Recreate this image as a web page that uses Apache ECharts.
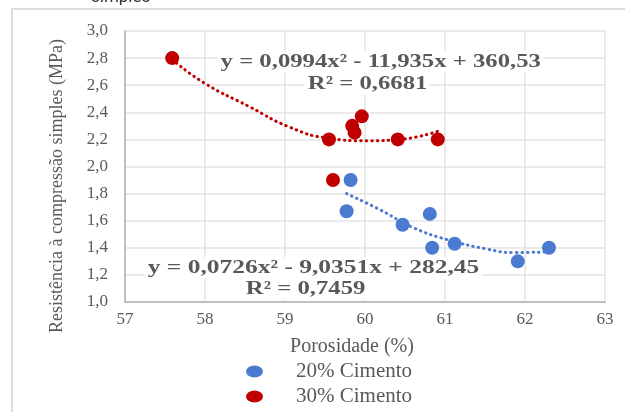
<!DOCTYPE html>
<html>
<head>
<meta charset="utf-8">
<script src="https://cdn.jsdelivr.net/npm/echarts@6/dist/echarts.min.js"></script>
<style>
  html, body { margin: 0; padding: 0; background: #fff; }
  #chart { width: 625px; height: 412px; }
</style>
</head>
<body>
<div id="chart"></div>
<script>
// points: [porosidade %, resistência MPa]
const cimento20 = [[59.82, 1.90], [59.77, 1.67], [60.47, 1.57], [60.81, 1.65],
                   [60.84, 1.40], [61.12, 1.43], [61.91, 1.30], [62.30, 1.40]];
const cimento30 = [[57.59, 2.80], [59.55, 2.20], [59.84, 2.30], [59.87, 2.25],
                   [59.96, 2.37], [60.41, 2.20], [60.91, 2.20], [59.60, 1.90]];
// trend lines
const trend20 = [[59.77, 1.80], [60.19, 1.68], [60.6, 1.55], [61.03, 1.46],
                 [61.53, 1.39], [61.85, 1.365], [62.3, 1.37]];
const trend30 = [[57.59, 2.79], [57.98, 2.62], [58.56, 2.44], [59.06, 2.29],
                 [59.53, 2.21], [60.03, 2.19], [60.44, 2.20], [60.91, 2.26]];
const eq20 = ['y = 0,0726x² - 9,0351x + 282,45', 'R² = 0,7459'];
const eq30 = ['y = 0,0994x² - 11,935x + 360,53', 'R² = 0,6681'];

const serif = '"Liberation Serif", "DejaVu Serif", serif';
const grey = '#595959';
const blue = '#4a7bd0';
const red = '#c00000';

// equation label with white box, stretched wide like the original
function eqLabel(text, x, y, align, sx) {
  return {
    type: 'text', x: x, y: y, z: 100, scaleX: sx || 1.3,
    style: {
      text: text, font: 'bold 19px ' + serif, fill: grey,
      align: align, verticalAlign: 'middle',
      backgroundColor: '#fff', padding: [1, 2]
    }
  };
}

const chart = echarts.init(document.getElementById('chart'));
chart.setOption({
  backgroundColor: '#fff',
  animation: false,
  textStyle: { fontFamily: serif, color: grey },
  grid: { left: 125, right: 20, top: 31, bottom: 110 },
  xAxis: {
    type: 'value', min: 57, max: 63, interval: 1,
    name: 'Porosidade (%)', nameLocation: 'middle', nameGap: 35,
    nameTextStyle: { fontFamily: serif, fontSize: 20, color: grey, padding: [0, 26, 0, 0] },
    axisLine: { lineStyle: { color: '#bfbfbf', width: 2 } },
    axisTick: { show: false },
    axisLabel: { fontFamily: serif, fontSize: 17, color: grey, margin: 9 },
    splitLine: { show: true, lineStyle: { color: '#e3e3e3', width: 1.5 } }
  },
  yAxis: {
    type: 'value', min: 1.0, max: 3.0, interval: 0.2,
    axisLine: { show: true, lineStyle: { color: '#bfbfbf', width: 2 } },
    axisTick: { show: false },
    axisLabel: {
      fontFamily: serif, fontSize: 17, color: grey, margin: 17,
      formatter: v => v.toFixed(1).replace('.', ',')
    },
    splitLine: { lineStyle: { color: '#e3e3e3', width: 1.5 } }
  },
  legend: {
    data: ['20% Cimento', '30% Cimento'],
    orient: 'vertical', left: 246, top: 361, padding: 0,
    itemWidth: 17, itemHeight: 12, itemGap: 4,
    icon: 'path://M0 5A5 5 0 1 1 10 5A5 5 0 1 1 0 5Z',
    symbolKeepAspect: false,
    textStyle: { fontFamily: serif, fontSize: 21, color: grey, padding: [0, 0, 0, 28] }
  },
  graphic: [
    { type: 'rect', shape: { x: 12, y: 9, width: 700, height: 500 },
      style: { fill: 'none', stroke: '#dcdcdc', lineWidth: 2 }, silent: true },
    { type: 'text', x: 91, y: -11,
      style: { text: 'simples', font: '17px Roboto, sans-serif', fill: '#333' } },
    { type: 'text', x: 57, y: 186, rotation: Math.PI / 2,
      style: { text: 'Resistência à compressão simples (MPa)', font: '18px ' + serif,
               fill: grey, align: 'center', verticalAlign: 'middle' } },
    eqLabel(eq30[0], 218, 62, 'left'),
    eqLabel(eq30[1], 430, 84, 'right'),
    eqLabel(eq20[0], 145, 268, 'left', 1.34),
    eqLabel(eq20[1], 368, 289, 'right')
  ],
  series: [
    {
      name: 'trend30', type: 'line', data: trend30, smooth: true, showSymbol: false,
      lineStyle: { color: red, width: 3, type: [0.5, 5], cap: 'round' }, z: 2
    },
    {
      name: 'trend20', type: 'line', data: trend20, smooth: true, showSymbol: false,
      lineStyle: { color: blue, width: 3, type: [0.5, 5], cap: 'round' }, z: 2
    },
    {
      name: '30% Cimento', type: 'scatter', data: cimento30, symbolSize: 14,
      itemStyle: { color: red, opacity: 1 }, z: 3
    },
    {
      name: '20% Cimento', type: 'scatter', data: cimento20, symbolSize: 14,
      itemStyle: { color: blue, opacity: 1 }, z: 4
    }
  ]
});
</script>
</body>
</html>
